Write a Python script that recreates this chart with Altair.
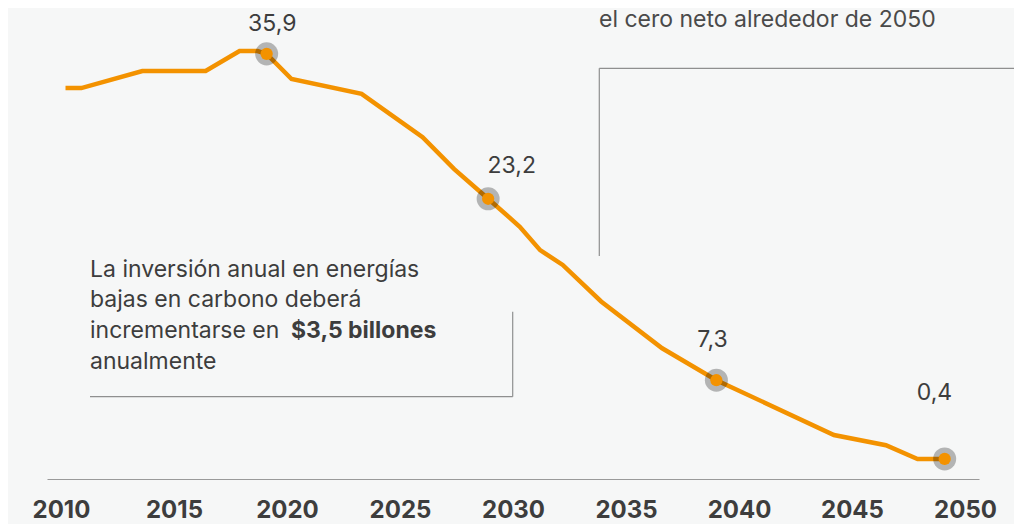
import altair as alt
import pandas as pd

# Emission pathway
years = [2010.2, 2010.9, 2013.6, 2016.4, 2017.9, 2018.7, 2019.1, 2020.2, 2023.3, 2026.0,
         2027.4, 2028.9, 2030.3, 2031.2, 2032.2, 2033.9, 2036.6, 2039.0, 2044.2, 2046.5,
         2047.9, 2049.1]
values = [32.9, 32.9, 34.4, 34.4, 36.15, 36.15, 35.9, 33.7, 32.4, 28.6,
          25.8, 23.2, 20.75, 18.7, 17.4, 14.2, 10.1, 7.3, 2.5, 1.6,
          0.4, 0.4]

hl_years = [2019.1, 2028.9, 2039.0, 2049.1]
hl_values = [35.9, 23.2, 7.3, 0.4]
hl_labels = ["35,9", "23,2", "7,3", "0,4"]

tick_years = [2010, 2015, 2020, 2025, 2030, 2035, 2040, 2045, 2050]

note_lines = ["La inversión anual en energías", "bajas en carbono deberá",
              "incrementarse en", "anualmente"]
note_bold = "$3,5 billones"
top_note = "el cero neto alrededor de 2050"

FONT = "Inter"
ORANGE = "#f39200"
TEXT = "#3d3d3d"
GRAY = "#8f8f8f"

line_df = pd.DataFrame({"year": years, "value": values})
hl_df = pd.DataFrame({"year": hl_years, "value": hl_values, "label": hl_labels})
one = pd.DataFrame({"a": [0]})

xs = alt.Scale(domain=[2009.381, 2050.619], nice=False, zero=False)
ys = alt.Scale(domain=[-1.358, 39.92], nice=False, zero=False)

x_enc = alt.X("year:Q", scale=xs,
              axis=alt.Axis(values=tick_years, format="d", title=None, grid=False,
                            ticks=False, tickSize=0, labelFont=FONT, labelFontSize=24,
                            labelFontWeight="bold", labelColor=TEXT,
                            labelBaseline="alphabetic", labelPadding=38,
                            domainColor="#9a9a9a", domainWidth=1.2,
                            labelFlush=False))
y_enc = alt.Y("value:Q", scale=ys, axis=None)

line = alt.Chart(line_df).mark_line(color=ORANGE, strokeWidth=4.5).encode(x=x_enc, y=y_enc)

halo = alt.Chart(hl_df).mark_circle(color="#000000", opacity=0.27, size=530).encode(
    x=alt.X("year:Q", scale=xs), y=alt.Y("value:Q", scale=ys))
dot = alt.Chart(hl_df).mark_circle(color=ORANGE, opacity=1, size=150).encode(
    x=alt.X("year:Q", scale=xs), y=alt.Y("value:Q", scale=ys))

offsets = [(5.6, -22.9), (23.6, -26.1), (-3.9, -33.5), (-10.2, -59)]
labels = []
for i, (dx, dy) in enumerate(offsets):
    labels.append(
        alt.Chart(hl_df.iloc[[i]]).mark_text(font=FONT, fontSize=23, color=TEXT,
                                             align="center", baseline="alphabetic",
                                             dx=dx, dy=dy).encode(
            x=alt.X("year:Q", scale=xs), y=alt.Y("value:Q", scale=ys), text="label:N"))

# annotation brackets (pixel positions inside the plot area)
bracket_style = dict(color=GRAY, strokeWidth=1.2)
r1 = alt.Chart(one).mark_rule(**bracket_style).encode(
    x=alt.value(552.3), x2=alt.value(967), y=alt.value(60.3))
r2 = alt.Chart(one).mark_rule(**bracket_style).encode(
    x=alt.value(552.3), y=alt.value(60.3), y2=alt.value(248))
r3 = alt.Chart(one).mark_rule(**bracket_style).encode(
    x=alt.value(43), x2=alt.value(465.7), y=alt.value(388.7))
r4 = alt.Chart(one).mark_rule(**bracket_style).encode(
    x=alt.value(465.7), y=alt.value(303.7), y2=alt.value(388.7))

note = alt.Chart(one).mark_text(font=FONT, fontSize=23, color=TEXT, align="left",
                                baseline="alphabetic", lineHeight=30.8).encode(
    x=alt.value(43), y=alt.value(268.7), text=alt.value(note_lines))
bold = alt.Chart(one).mark_text(font=FONT, fontSize=23, fontWeight="bold", color=TEXT,
                                align="left", baseline="alphabetic").encode(
    x=alt.value(244), y=alt.value(330.3), text=alt.value(note_bold))
top = alt.Chart(one).mark_text(font=FONT, fontSize=23, color="#4a4a4a", align="left",
                               baseline="alphabetic").encode(
    x=alt.value(552), y=alt.value(19), text=alt.value(top_note))

chart = alt.layer(r1, r2, r3, r4, note, bold, top, line, halo, dot, *labels).properties(
    width=932, height=471,
    padding={"left": 39, "top": 0, "right": 35, "bottom": 45},
    autosize=alt.AutoSizeParams(type="none"),
    background="#f6f7f7",
).configure_view(stroke=None)

chart.save("out.html", embed_options={"renderer": "svg", "actions": False})
